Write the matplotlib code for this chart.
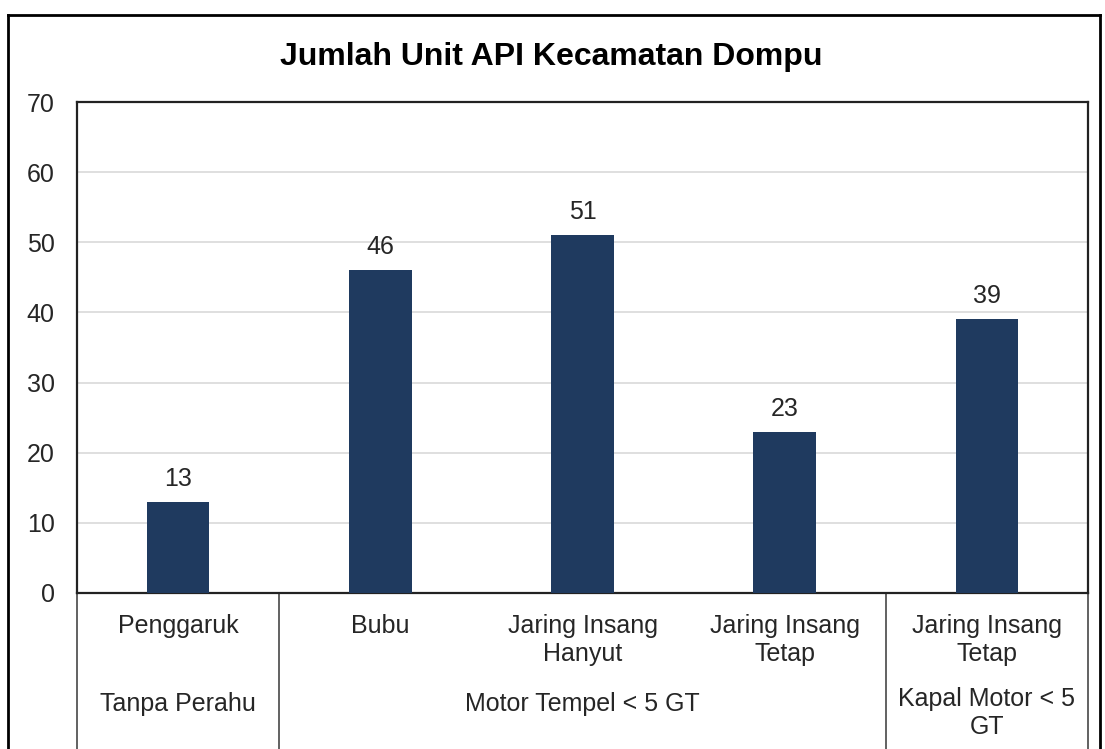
import matplotlib.pyplot as plt
from matplotlib.lines import Line2D

plt.rcParams['font.family'] = ['Liberation Sans', 'DejaVu Sans']
plt.rcParams['text.color'] = '#262626'
plt.rcParams['ytick.labelcolor'] = '#262626'

# data
gear_labels = ['Penggaruk', 'Bubu', 'Jaring Insang\nHanyut', 'Jaring Insang\nTetap', 'Jaring Insang\nTetap']
unit_counts = [13, 46, 51, 23, 39]
group_labels = ['Tanpa Perahu', 'Motor Tempel < 5 GT', 'Kapal Motor < 5\nGT']
group_sizes = [1, 3, 1]

fig = plt.figure(figsize=(11.05, 7.49), dpi=100)
ax = fig.add_axes([0.0697, 0.2083, 0.915, 0.6555])

x = range(len(unit_counts))
bars = ax.bar(x, unit_counts, width=0.31, color='#1F3A5F', zorder=3)
for b, v in zip(bars, unit_counts):
    ax.annotate(str(v), (b.get_x() + b.get_width() / 2, v), xytext=(0, 8),
                textcoords='offset points', ha='center', va='bottom', fontsize=18)

ax.set_xlim(-0.5, len(unit_counts) - 0.5)
ax.set_ylim(0, 70)
ax.set_yticks(range(0, 71, 10))
ax.set_xticks([])
ax.tick_params(axis='y', length=0, pad=16, labelsize=18)
ax.yaxis.grid(True, color='#d9d9d9', linewidth=1.2, zorder=0)
for s in ax.spines.values():
    s.set_color('#222222')
    s.set_linewidth(1.6)

# category labels under the axis
tr = ax.get_xaxis_transform()
for i, lab in enumerate(gear_labels):
    ax.text(i, -0.043, lab, transform=tr, ha='center', va='top', fontsize=18,
            linespacing=1.2)

# group labels and separators
start = 0
bounds = [-0.5]
for g, n in zip(group_labels, group_sizes):
    mid = start + (n - 1) / 2
    ypos = -0.191 if '\n' in g else -0.2016
    ax.text(mid, ypos, g, transform=tr, ha='center', va='top', fontsize=18,
            linespacing=1.2)
    start += n
    bounds.append(start - 0.5)
for bx in bounds:
    ax.plot([bx, bx], [0, -0.33], transform=tr, color='#555555', linewidth=1.3,
            clip_on=False)

fig.text(0.4986, 0.9235, 'Jumlah Unit API Kecamatan Dompu', fontsize=23,
         fontweight='bold', ha='center', va='center', color='black')

# outer frame
fig.add_artist(Line2D([0.0072, 0.0072], [0, 0.98], color='black', linewidth=2))
fig.add_artist(Line2D([0.9955, 0.9955], [0, 0.98], color='black', linewidth=2))
fig.add_artist(Line2D([0.0072, 0.9955], [0.98, 0.98], color='black', linewidth=2))

fig.savefig('out.png', dpi=100)
